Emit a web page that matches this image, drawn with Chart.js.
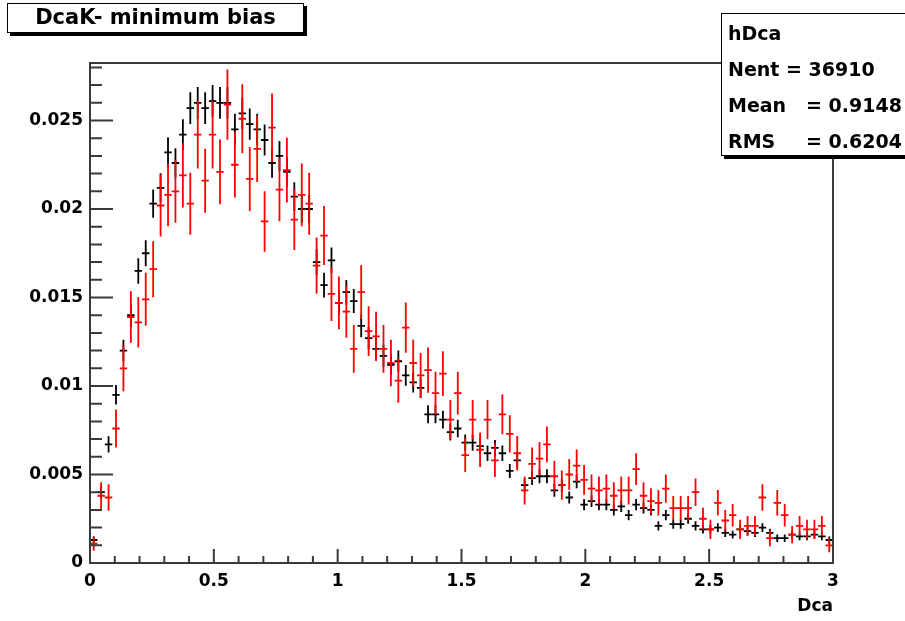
<!DOCTYPE html>
<html><head><meta charset="utf-8">
<script src="https://cdn.jsdelivr.net/npm/chart.js@4.4.1/dist/chart.umd.min.js"></script>
<style>html,body{margin:0;padding:0;background:#fff;overflow:hidden}#wrap{width:905px;height:621px;position:relative}</style>
</head><body><div id="wrap"><canvas id="c" width="905" height="621"></canvas></div>
<script>
// Histogram definition (hDca): 100 bins from 0 to 3
const nBins = 100, xMin = 0, xMax = 3;
const binWidth = (xMax - xMin) / nBins;
const binCenters = Array.from({length: nBins}, (_, i) => +(xMin + (i + 0.5) * binWidth).toFixed(4));

const blackValues = [
0.0013,0.0040,0.0067,0.0095,0.0120,0.0140,0.0165,0.0175,0.0203,0.0212,
0.0232,0.0226,0.0242,0.0257,0.0260,0.0257,0.0261,0.0260,0.0260,0.0245,
0.0254,0.0248,0.0245,0.0239,0.0226,0.0230,0.0221,0.0207,0.0200,0.0200,
0.0170,0.0157,0.0171,0.0147,0.0153,0.0148,0.0134,0.0127,0.0121,0.0117,
0.0112,0.0114,0.0106,0.0102,0.0099,0.0084,0.0084,0.0081,0.0074,0.0076,
0.0068,0.0068,0.0066,0.0062,0.0065,0.0062,0.0052,0.0058,0.0044,0.0048,
0.0049,0.0049,0.0041,0.0044,0.0037,0.0046,0.0033,0.0035,0.0033,0.0033,
0.0030,0.0032,0.0027,0.0033,0.0031,0.0030,0.0021,0.0027,0.0022,0.0022,
0.0025,0.0021,0.0019,0.0019,0.0020,0.0017,0.0016,0.0019,0.0018,0.0017,
0.0020,0.0017,0.0014,0.0014,0.0016,0.0015,0.0015,0.0016,0.0015,0.0013];
const blackErrors = [
0.00020,0.00035,0.00046,0.00055,0.00061,0.00066,0.00072,0.00074,0.00080,0.00082,
0.00085,0.00084,0.00087,0.00090,0.00090,0.00090,0.00090,0.00090,0.00090,0.00088,
0.00089,0.00088,0.00088,0.00087,0.00084,0.00085,0.00083,0.00081,0.00079,0.00079,
0.00073,0.00070,0.00073,0.00068,0.00069,0.00068,0.00065,0.00063,0.00062,0.00061,
0.00059,0.00060,0.00058,0.00057,0.00056,0.00051,0.00051,0.00050,0.00048,0.00049,
0.00046,0.00046,0.00045,0.00044,0.00045,0.00044,0.00040,0.00043,0.00037,0.00039,
0.00039,0.00039,0.00036,0.00037,0.00034,0.00038,0.00032,0.00033,0.00032,0.00032,
0.00031,0.00032,0.00029,0.00032,0.00031,0.00031,0.00026,0.00029,0.00026,0.00026,
0.00028,0.00026,0.00024,0.00024,0.00025,0.00023,0.00022,0.00024,0.00024,0.00023,
0.00025,0.00023,0.00021,0.00021,0.00022,0.00022,0.00022,0.00022,0.00022,0.00020];
const redValues = [
0.0011,0.0038,0.0037,0.0076,0.0110,0.0139,0.0136,0.0149,0.0166,0.0202,
0.0208,0.0210,0.0219,0.0203,0.0242,0.0216,0.0242,0.0221,0.0259,0.0225,
0.0251,0.0217,0.0234,0.0193,0.0246,0.0211,0.0222,0.0194,0.0208,0.0203,
0.0168,0.0185,0.0152,0.0147,0.0142,0.0121,0.0153,0.0131,0.0128,0.0121,
0.0113,0.0103,0.0133,0.0113,0.0106,0.0109,0.0096,0.0107,0.0081,0.0096,
0.0061,0.0081,0.0064,0.0081,0.0058,0.0084,0.0073,0.0062,0.0041,0.0056,
0.0059,0.0067,0.0049,0.0044,0.0050,0.0055,0.0047,0.0042,0.0041,0.0042,
0.0038,0.0041,0.0041,0.0053,0.0038,0.0035,0.0034,0.0042,0.0031,0.0031,
0.0031,0.0040,0.0025,0.0019,0.0034,0.0024,0.0027,0.0019,0.0021,0.0021,
0.0037,0.0014,0.0034,0.0027,0.0016,0.0021,0.0019,0.0019,0.0021,0.0010];
const redErrors = [
0.00041,0.00076,0.00075,0.00107,0.00129,0.00145,0.00143,0.00150,0.00158,0.00175,
0.00177,0.00178,0.00182,0.00175,0.00191,0.00181,0.00191,0.00183,0.00198,0.00185,
0.00195,0.00181,0.00188,0.00171,0.00193,0.00179,0.00183,0.00171,0.00177,0.00175,
0.00159,0.00167,0.00152,0.00149,0.00147,0.00135,0.00152,0.00141,0.00139,0.00135,
0.00131,0.00125,0.00142,0.00131,0.00127,0.00128,0.00121,0.00127,0.00111,0.00121,
0.00096,0.00111,0.00098,0.00111,0.00094,0.00113,0.00105,0.00097,0.00079,0.00092,
0.00094,0.00101,0.00086,0.00082,0.00087,0.00091,0.00084,0.00080,0.00079,0.00080,
0.00076,0.00079,0.00079,0.00090,0.00076,0.00073,0.00072,0.00080,0.00068,0.00068,
0.00068,0.00078,0.00062,0.00054,0.00072,0.00060,0.00064,0.00054,0.00056,0.00056,
0.00075,0.00046,0.00072,0.00064,0.00049,0.00056,0.00054,0.00054,0.00056,0.00039];

const xTickLabels = ['0','0.5','1','1.5','2','2.5','3'];
const yTickLabels = ['0','0.005','0.01','0.015','0.02','0.025'];
const titleText = 'DcaK- minimum bias';
const statsName = 'hDca';
const statsLabels = ['Nent', 'Mean', 'RMS'];
const statsValues = ['36910', '0.9148', '0.6204'];
const xAxisTitle = 'Dca';
const yMax = 0.02825;

const FONT = '"DejaVu Sans", sans-serif';

function toPoints(vals, errs) {
  return vals.map((v, i) => ({x: binCenters[i], y: v, e: errs[i]}));
}

const bgPlugin = {
  id: 'bg',
  beforeDraw(chart) {
    const c = chart.ctx; c.save(); c.fillStyle = '#fff';
    c.fillRect(0, 0, chart.width, chart.height); c.restore();
  }
};

const crossPlugin = {
  id: 'cross',
  afterDatasetsDraw(chart) {
    const {ctx, chartArea: a, scales: {x, y}} = chart;
    ctx.save();
    ctx.beginPath(); ctx.rect(a.left, a.top, a.right - a.left, a.bottom - a.top); ctx.clip();
    chart.data.datasets.forEach(ds => {
      ctx.strokeStyle = ds.borderColor; ctx.lineWidth = 1.8; ctx.lineCap = 'butt';
      ds.data.forEach(p => {
        const xc = x.getPixelForValue(p.x);
        const xl = x.getPixelForValue(p.x - binWidth / 2), xr = x.getPixelForValue(p.x + binWidth / 2);
        const yc = y.getPixelForValue(p.y);
        const yt = y.getPixelForValue(p.y + p.e), yb = y.getPixelForValue(p.y - p.e);
        ctx.beginPath();
        ctx.moveTo(xl, yc); ctx.lineTo(xr, yc);
        ctx.moveTo(xc, yt); ctx.lineTo(xc, yb);
        ctx.stroke();
      });
    });
    ctx.restore();
  }
};

const framePlugin = {
  id: 'frame',
  afterDraw(chart) {
    const {ctx, chartArea: a, scales: {x, y}} = chart;
    ctx.save();
    ctx.strokeStyle = '#3a3a3a'; ctx.lineWidth = 2;
    ctx.strokeRect(a.left, a.top, a.right - a.left, a.bottom - a.top);
    // y ticks (inward)
    ctx.beginPath();
    for (let k = 0; k <= 28; k++) {
      const py = y.getPixelForValue(k * 0.001);
      const len = (k % 5 === 0) ? 23 : 12;
      ctx.moveTo(a.left, py); ctx.lineTo(a.left + len, py);
    }
    for (let k = 0; k <= 30; k++) {
      const px = x.getPixelForValue(k * 0.1);
      const len = (k % 5 === 0) ? 14 : 7;
      ctx.moveTo(px, a.bottom); ctx.lineTo(px, a.bottom - len);
    }
    ctx.stroke();

    // title box
    ctx.fillStyle = '#000';
    ctx.fillRect(10, 6, 297, 30);
    ctx.fillStyle = '#fff';
    ctx.fillRect(7, 3, 297, 30);
    ctx.strokeStyle = '#000'; ctx.lineWidth = 1;
    ctx.strokeRect(7.5, 3.5, 296, 29);
    ctx.fillStyle = '#000';
    ctx.font = 'bold 21px ' + FONT;
    ctx.textAlign = 'center'; ctx.textBaseline = 'middle';
    ctx.fillText(titleText, 155.5, 18.5);

    // stats box
    ctx.fillStyle = '#000';
    ctx.fillRect(724, 16, 200, 143);
    ctx.fillStyle = '#fff';
    ctx.fillRect(721, 13, 200, 143);
    ctx.strokeStyle = '#000';
    ctx.strokeRect(721.5, 13.5, 200, 142);
    ctx.fillStyle = '#000';
    ctx.font = 'bold 19px ' + FONT;
    ctx.textAlign = 'left'; ctx.textBaseline = 'middle';
    ctx.fillText(statsName, 728, 35);
    ctx.fillText(statsLabels[0] + ' = ' + statsValues[0], 728, 71);
    ctx.fillText(statsLabels[1], 728, 107);
    ctx.fillText('= ' + statsValues[1], 806, 107);
    ctx.fillText(statsLabels[2], 728, 143);
    ctx.fillText('= ' + statsValues[2], 806, 143);
    ctx.restore();
  }
};

new Chart(document.getElementById('c'), {
  type: 'scatter',
  data: {
    datasets: [
      {label: 'black', data: toPoints(blackValues, blackErrors), borderColor: '#000000', backgroundColor: '#000000', pointRadius: 0, showLine: false},
      {label: 'red', data: toPoints(redValues, redErrors), borderColor: '#ff0000', backgroundColor: '#ff0000', pointRadius: 0, showLine: false}
    ]
  },
  options: {
    responsive: false, animation: false, devicePixelRatio: 1,
    layout: {padding: {left: 0, right: 72, top: 63, bottom: 0}},
    plugins: {legend: {display: false}, tooltip: {enabled: false}, title: {display: false}},
    scales: {
      x: {
        type: 'linear', min: xMin, max: xMax,
        grid: {display: false, drawTicks: false}, border: {display: false},
        ticks: {stepSize: 0.5, padding: 8, color: '#000', font: {family: FONT, weight: 'bold', size: 17},
          maxRotation: 0, autoSkip: false, callback: (v, i) => xTickLabels[i]},
        title: {display: true, text: xAxisTitle, align: 'end', color: '#000', font: {family: FONT, weight: 'bold', size: 17}, padding: {top: 0, bottom: 4}},
        afterFit: s => { s.height = 58; }
      },
      y: {
        type: 'linear', min: 0, max: yMax,
        grid: {display: false, drawTicks: false}, border: {display: false},
        afterBuildTicks: s => { s.ticks = s.ticks.filter(t => Math.abs(t.value / 0.005 - Math.round(t.value / 0.005)) < 1e-6); },
        ticks: {stepSize: 0.005, padding: 7, color: '#000', font: {family: FONT, weight: 'bold', size: 17},
          autoSkip: false, callback: (v, i) => yTickLabels[i]},
        afterFit: s => { s.width = 90; }
      }
    }
  },
  plugins: [bgPlugin, crossPlugin, framePlugin]
});
</script>
</body></html>
